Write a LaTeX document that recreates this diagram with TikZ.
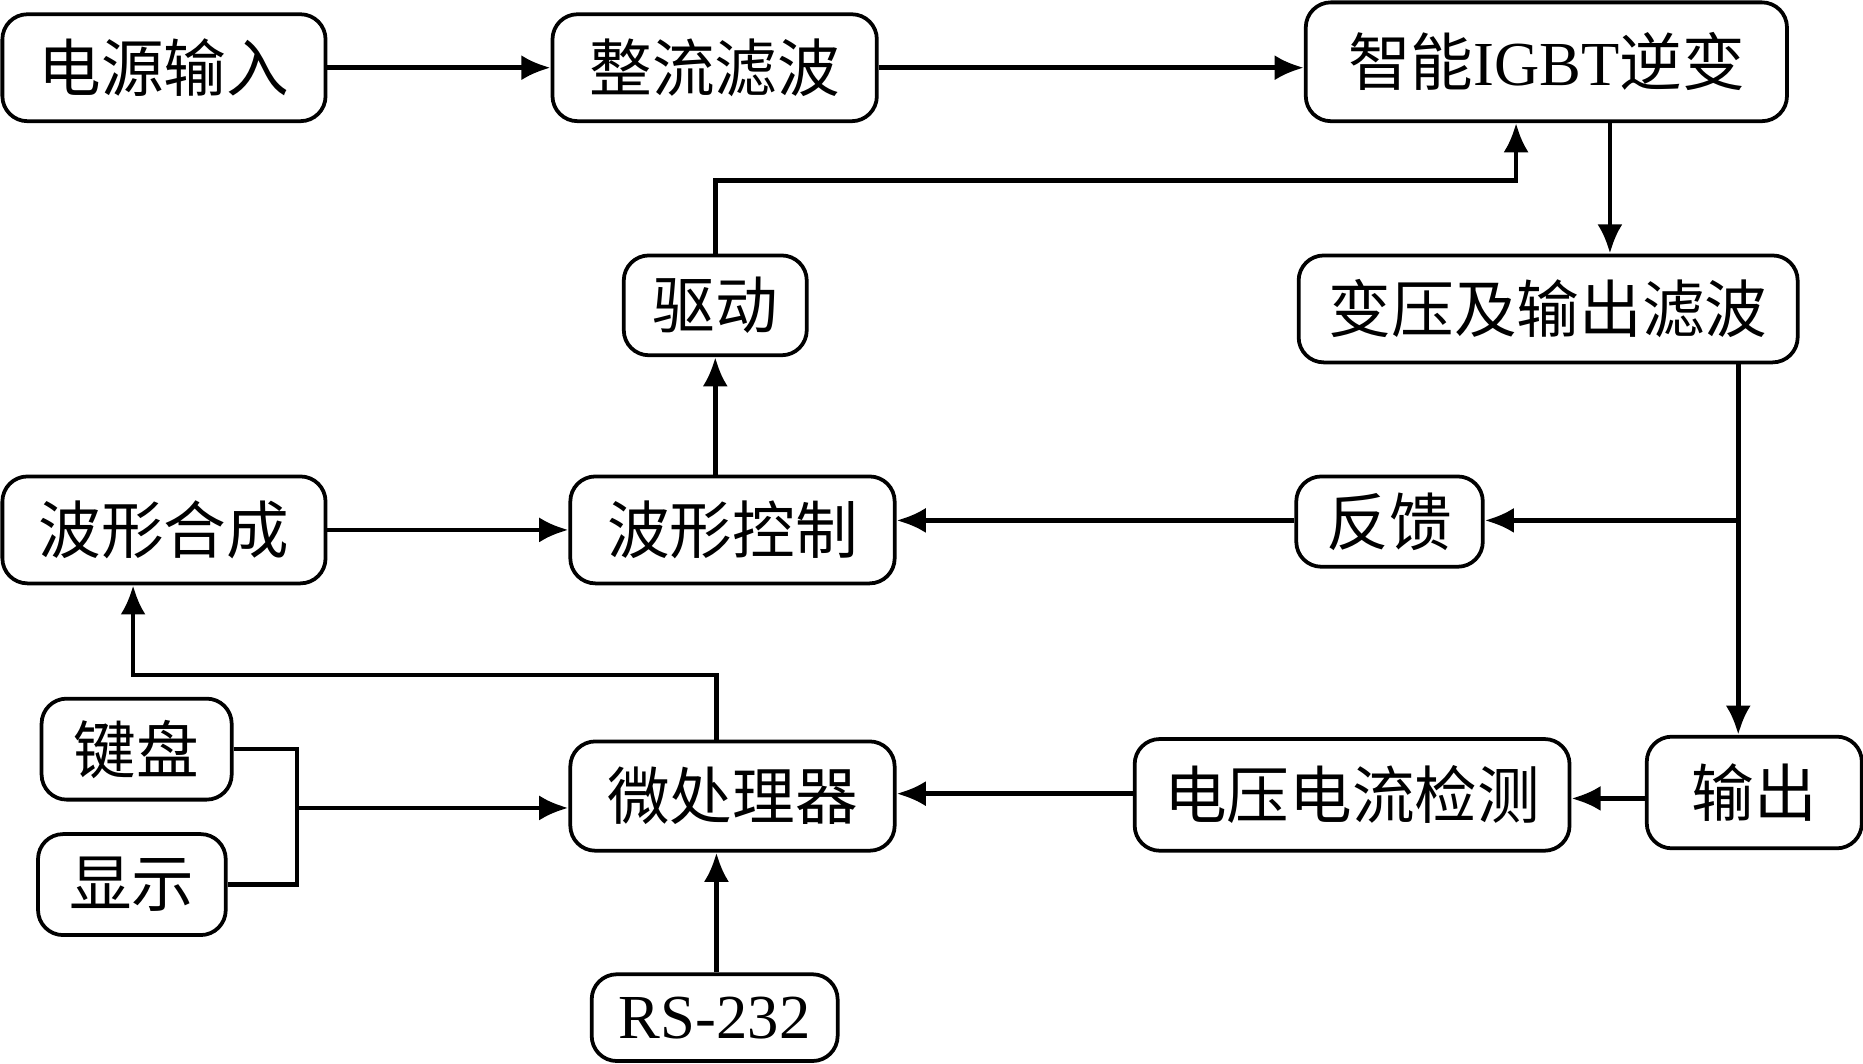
\documentclass[tikz,border=0pt]{standalone}
\usepackage{fontspec}
\setmainfont{Liberation Serif}
\newfontfamily\cjk{Noto Sans CJK SC}
\usetikzlibrary{arrows.meta}
\begin{document}
\begin{tikzpicture}[
  box/.style={draw,line width=0.9pt,rounded corners=6pt,inner sep=0pt,font=\fontsize{15pt}{17pt}\selectfont\cjk},
  ln/.style={line width=1.1pt},
  ar/.style={ln,-{Latex[length=7pt,width=6pt]}}]
\useasboundingbox (0,0) rectangle (15.68,-8.95);
\node[box,minimum width=2.72cm,minimum height=0.90cm] (ps) at (1.38,-0.57) {电源输入};
\node[box,minimum width=2.73cm,minimum height=0.90cm] (zl) at (6.015,-0.57) {整流滤波};
\node[box,minimum width=4.05cm,minimum height=1.00cm] (igbt) at (13.015,-0.52) {智能{\fontspec{Liberation Serif}IGBT}逆变};
\node[box,minimum width=4.20cm,minimum height=0.90cm] (by) at (13.03,-2.60) {变压及输出滤波};
\node[box,minimum width=1.54cm,minimum height=0.84cm] (qd) at (6.02,-2.57) {驱动};
\node[box,minimum width=2.72cm,minimum height=0.90cm] (hc) at (1.38,-4.46) {波形合成};
\node[box,minimum width=2.73cm,minimum height=0.90cm] (kz) at (6.165,-4.46) {波形控制};
\node[box,minimum width=1.57cm,minimum height=0.76cm] (fk) at (11.695,-4.39) {反馈};
\node[box,minimum width=1.60cm,minimum height=0.85cm] (jp) at (1.15,-6.305) {键盘};
\node[box,minimum width=1.58cm,minimum height=0.85cm] (xs) at (1.11,-7.445) {显示};
\node[box,minimum width=2.73cm,minimum height=0.92cm] (wcl) at (6.165,-6.70) {微处理器};
\node[box,minimum width=3.66cm,minimum height=0.94cm] (jc) at (11.38,-6.69) {电压电流检测};
\node[box,minimum width=1.81cm,minimum height=0.94cm] (sc) at (14.765,-6.67) {输出};
\node[box,font=\fontsize{15pt}{17pt}\selectfont,minimum width=2.07cm,minimum height=0.73cm] (rs) at (6.015,-8.565) {RS-232};
\coordinate (x1) at (13.55,0);
\coordinate (x2) at (12.76,-1.52);
\coordinate (x3) at (6.02,-1.52);
\coordinate (x4) at (14.63,-4.38);
\coordinate (x5) at (2.50,0);
\coordinate (x6) at (6.03,-5.68);
\coordinate (x7) at (1.12,-5.68);
\draw[ar] (ps) -- (zl);
\draw[ar] (zl.east) -- (zl.east -| igbt.west);
\draw[ar] (igbt.south -| x1) -- (by.north -| x1);
\draw[ar] (qd.north) -- (x3) -- (x2) -- (igbt.south -| x2);
\draw[ar] (kz.north -| qd) -- (qd.south);
\draw[ar] (by.south -| x4) -- (sc.north -| x4);
\draw[ar] (x4) -- (fk.east |- x4);
\draw[ar] (fk.west |- x4) -- (kz.east |- x4);
\draw[ar] (hc) -- (kz);
\draw[ar] (sc.west |- 0,-6.72) -- (jc.east |- 0,-6.72);
\draw[ar] (jc.west |- 0,-6.68) -- (wcl.east |- 0,-6.68);
\draw[ln] (jp.east) -| (x5 |- xs.east) -- (xs.east);
\draw[ar] (x5 |- 0,-6.80) -- (wcl.west |- 0,-6.80);
\draw[ar] (wcl.north -| x6) -- (x6) -- (x7) -- (hc.south -| x7);
\draw[ar] (rs.north -| x6) -- (wcl.south -| x6);
\end{tikzpicture}
\end{document}
